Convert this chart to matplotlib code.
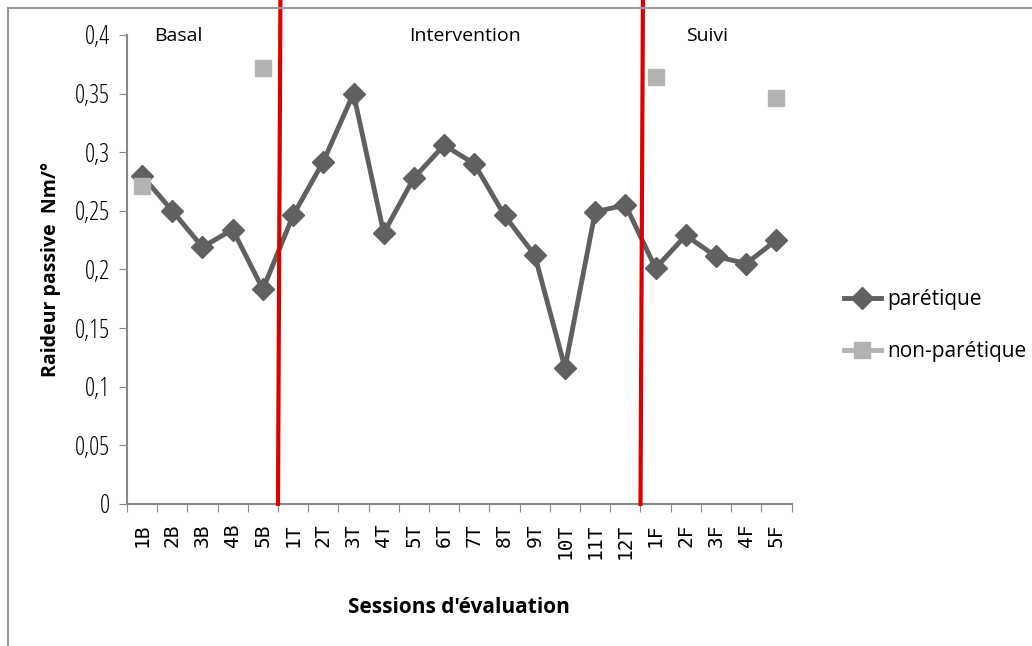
import matplotlib.pyplot as plt
import numpy as np

# sessions: basal (B), intervention (T), follow-up (F)
sessions = ['1B', '2B', '3B', '4B', '5B',
            '1T', '2T', '3T', '4T', '5T', '6T', '7T', '8T', '9T', '10T', '11T', '12T',
            '1F', '2F', '3F', '4F', '5F']
paretique = [0.280, 0.250, 0.219, 0.234, 0.183,
             0.246, 0.292, 0.350, 0.231, 0.278, 0.306, 0.290, 0.246, 0.212, 0.116, 0.249, 0.255,
             0.201, 0.229, 0.211, 0.205, 0.225]
non_paretique = [0.271, None, None, None, 0.372,
                 None, None, None, None, None, None, None, None, None, None, None, None,
                 0.364, None, None, None, 0.346]
phases = ['Basal', 'Intervention', 'Suivi']
phase_label_x = [1.2, 10.7, 18.7]
phase_breaks = [4.5, 16.5]

plt.rcParams['font.family'] = ['Open Sans', 'DejaVu Sans']

fig = plt.figure(figsize=(10.32, 6.46), dpi=100)
ax = fig.add_axes([0.123, 0.220, 0.644, 0.726])

x = np.arange(len(sessions))
np_vals = np.array([np.nan if v is None else v for v in non_paretique], dtype=float)

ax.plot(x, paretique, color='#606060', lw=3.5, marker='D', markersize=11,
        label='parétique', zorder=3)
ax.plot(x, np_vals, color='#b3b3b3', lw=3.5, marker='s', markersize=12,
        label='non-parétique', zorder=4)

# phase separators, running up past the plot top
for b in phase_breaks:
    ax.plot([b, b + 0.08], [0, 0.428], color='#dd0000', lw=3, clip_on=False, zorder=5)

for name, px in zip(phases, phase_label_x):
    ax.text(px, 0.399, name, ha='center', va='center', fontsize=14)

ax.set_xlim(-0.5, len(sessions) - 0.5)
ax.set_ylim(0, 0.4)
ax.set_yticks(np.arange(0, 0.401, 0.05))
ax.set_yticklabels(['0' if v == 0 else ('%g' % v).replace('.', ',')
                    for v in np.arange(0, 0.401, 0.05)], fontsize=18, fontstretch='condensed')

# ticks between categories, labels centered on categories
ax.set_xticks(np.arange(-0.5, len(sessions)), minor=False)
ax.set_xticklabels([])
ax.set_xticks(x, minor=True)
ax.set_xticklabels(sessions, minor=True, rotation=90, fontsize=14,
                   family='DejaVu Sans Mono')
ax.tick_params(axis='x', which='minor', length=0, pad=14)
ax.tick_params(axis='x', which='major', length=6, color='#888888')
ax.tick_params(axis='y', length=6, color='#888888', pad=6)

for s in ['top', 'right']:
    ax.spines[s].set_visible(False)
for s in ['left', 'bottom']:
    ax.spines[s].set_color('#888888')
    ax.spines[s].set_linewidth(1.5)

ax.set_ylabel('Raideur passive  Nm/°', fontsize=14, fontweight='bold', labelpad=10)
ax.set_xlabel("Sessions d'évaluation", fontsize=15, fontweight='bold', labelpad=28)

ax.legend(loc='center left', bbox_to_anchor=(1.05, 0.38), frameon=False,
          fontsize=15, handlelength=1.8, labelspacing=1.5, handletextpad=0.3)

# chart border (top and left edges only)
fig.add_artist(plt.Line2D([0.008, 1.0], [0.988, 0.988], color='#999999', lw=1.5))
fig.add_artist(plt.Line2D([0.008, 0.008], [0.0, 0.988], color='#999999', lw=1.5))

fig.savefig('out.png', dpi=100)
